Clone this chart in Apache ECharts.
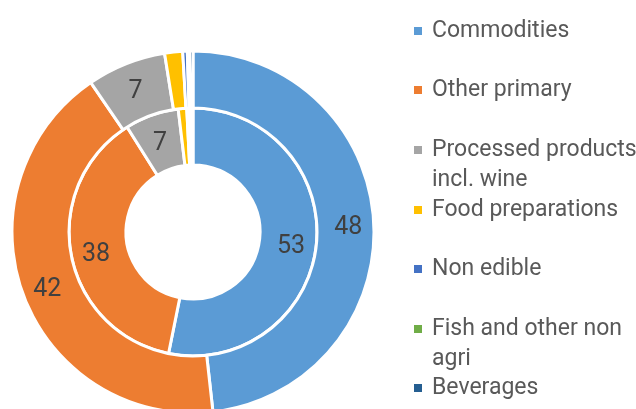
<!DOCTYPE html>
<html>
<head>
<meta charset="utf-8">
<script src="https://cdn.jsdelivr.net/npm/echarts@6/dist/echarts.min.js"></script>
<style>
  html, body { margin: 0; padding: 0; background: #fff; }
  #main { width: 636px; height: 409px; }
</style>
</head>
<body>
<div id="main"></div>
<script>
// categories, same order in both rings
var categories = [
  'Commodities',
  'Other primary',
  'Processed products incl. wine',
  'Food preparations',
  'Non edible',
  'Fish and other non agri',
  'Beverages'
]
var colors = ['#5B9BD5', '#ED7D31', '#A5A5A5', '#FFC000', '#4472C4', '#70AD47', '#255E91']
// outer ring
var outerValues = [48, 42, 7, 1.6, 0.4, 0.2, 0.3]
// inner ring
var innerValues = [53, 37.8, 7, 1.1, 0.3, 0.2, 0.3]
// legend labels with the wrapping used in the picture
var legendLabels = {
  'Processed products incl. wine': 'Processed products\nincl. wine',
  'Fish and other non agri': 'Fish and other non\nagri'
}

var FONT = 'Roboto, sans-serif'
var LINE = 30
var LEGEND_Y = [31, 90, 150, 210, 269, 329, 388] // marker centres

function ringData(values) {
  return categories.map(function(name, i) {
    return {
      name: name,
      value: values[i],
      itemStyle: { color: colors[i] },
      label: { show: values[i] >= 5 }
    }
  })
}

// one legend per item, so wrapped names do not push the next ones down
function legends() {
  return categories.map(function(name, i) {
    var wrapped = !!legendLabels[name]
    return {
      orient: 'vertical',
      left: 412,
      // a wrapped name gets an empty first line so its first text line sits by the marker
      top: LEGEND_Y[i] - (wrapped ? LINE * 1.5 : LINE / 2),
      padding: 0,
      itemWidth: 10,
      itemHeight: 10,
      icon: 'rect',
      selectedMode: false,
      formatter: function(n) { return legendLabels[n] ? '\n' + legendLabels[n] : n },
      textStyle: {
        color: '#595959',
        fontSize: 23,
        fontFamily: FONT,
        lineHeight: LINE,
        padding: [0, 0, 0, 4]
      },
      data: [name]
    }
  })
}

var chartDom = document.getElementById('main')
var myChart = echarts.init(chartDom, null, { renderer: 'canvas' })

var ringLabel = {
  position: 'inside',
  formatter: function(p) { return Math.round(p.value) },
  color: '#404040',
  fontSize: 25,
  fontFamily: FONT
}

var option = {
  animation: false,
  color: colors,
  legend: legends(),
  series: [
    {
      name: 'inner',
      type: 'pie',
      center: [193, 232],
      radius: [67, 124],
      startAngle: 90,
      clockwise: true,
      avoidLabelOverlap: false,
      itemStyle: { borderColor: '#fff', borderWidth: 3 },
      label: ringLabel,
      labelLine: { show: false },
      labelLayout: { dy: 5 }, // Excel sets the numbers a little below mid-ring
      emphasis: { disabled: true },
      data: ringData(innerValues)
    },
    {
      name: 'outer',
      type: 'pie',
      center: [193, 232],
      radius: [124, 181],
      startAngle: 90,
      clockwise: true,
      avoidLabelOverlap: false,
      itemStyle: { borderColor: '#fff', borderWidth: 3 },
      label: ringLabel,
      labelLine: { show: false },
      labelLayout: { dy: 4 },
      emphasis: { disabled: true },
      data: ringData(outerValues)
    }
  ]
}
myChart.setOption(option)
</script>
</body>
</html>
